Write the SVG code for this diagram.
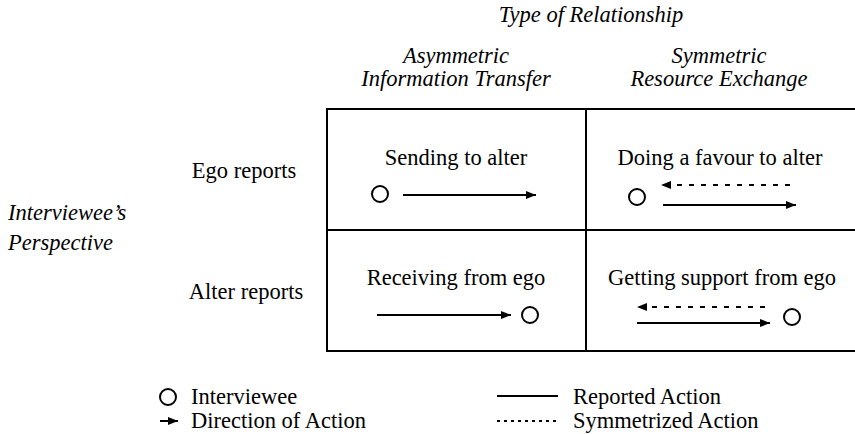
<svg xmlns="http://www.w3.org/2000/svg" width="855" height="434" viewBox="0 0 855 434" font-family="'Liberation Serif', 'DejaVu Serif', serif">
<style>
text{font-family:'Liberation Serif','Times New Roman','DejaVu Serif',serif;font-size:22.5px;fill:#000}
.it{font-style:italic}
.mid{text-anchor:middle}
.grid{stroke:#000;stroke-width:2;fill:none}
.solid{stroke:#000;stroke-width:2;fill:none}
.dash{stroke:#000;stroke-width:2;fill:none;stroke-dasharray:5 7}
.dot{stroke:#000;stroke-width:2;fill:none;stroke-dasharray:3 4}
.node{stroke:#000;stroke-width:2;fill:#fff}
</style>
<defs>
<marker id="ah" viewBox="0 0 10 8" refX="10" refY="4" markerWidth="10" markerHeight="8" markerUnits="userSpaceOnUse" orient="auto">
<path d="M0,0 L10,4 L0,8 Z" fill="#000"/>
</marker>
</defs>
<rect width="855" height="434" fill="#fff"/>
<g id="headers">
<text class="it mid" x="591" y="22">Type of Relationship</text>
<text class="it mid" x="456" y="63">Asymmetric</text>
<text class="it mid" x="456" y="86">Information Transfer</text>
<text class="it mid" x="719" y="63">Symmetric</text>
<text class="it mid" x="719" y="86">Resource Exchange</text>
<text class="it" x="8" y="220">Interviewee’s</text>
<text class="it" x="8" y="250">Perspective</text>
<text class="mid" x="244" y="178">Ego reports</text>
<text class="mid" x="246" y="299">Alter reports</text>
</g>
<g id="grid">
<path class="grid" d="M327,109 H855 M327,230 H855 M327,351 H855 M327,108 V352 M586,108 V352"/>
</g>
<g id="cell-ego-asym">
<text class="mid" x="456" y="165">Sending to alter</text>
<circle class="node" cx="380" cy="194" r="8"/>
</g>
<g id="cell-ego-sym">
<text class="mid" x="720" y="165">Doing a favour to alter</text>
<circle class="node" cx="637" cy="197" r="8"/>
</g>
<g id="cell-alter-asym">
<text class="mid" x="456" y="285">Receiving from ego</text>
<circle class="node" cx="530" cy="315" r="8"/>
</g>
<g id="cell-alter-sym">
<text class="mid" x="722" y="285">Getting support from ego</text>
<circle class="node" cx="792" cy="317" r="8"/>
</g>
<g id="connectors">
<line class="solid" x1="403" y1="195" x2="536" y2="195" marker-end="url(#ah)"/>
<line class="dash" x1="790" y1="185" x2="661" y2="185" marker-end="url(#ah)"/>
<line class="solid" x1="663" y1="205" x2="796" y2="205" marker-end="url(#ah)"/>
<line class="solid" x1="377" y1="315" x2="511" y2="315" marker-end="url(#ah)"/>
<line class="dash" x1="765" y1="307" x2="637" y2="307" marker-end="url(#ah)"/>
<line class="solid" x1="637" y1="323" x2="770" y2="323" marker-end="url(#ah)"/>
</g>
<g id="legend">
<circle class="node" cx="168" cy="397" r="8"/>
<text x="191" y="404">Interviewee</text>
<line class="solid" x1="160" y1="421" x2="178" y2="421" marker-end="url(#ah)"/>
<text x="191" y="428">Direction of Action</text>
<line class="solid" x1="497" y1="396" x2="558" y2="396"/>
<text x="573" y="404">Reported Action</text>
<line class="dot" x1="497" y1="421" x2="558" y2="421"/>
<text x="573" y="428">Symmetrized Action</text>
</g>
</svg>
